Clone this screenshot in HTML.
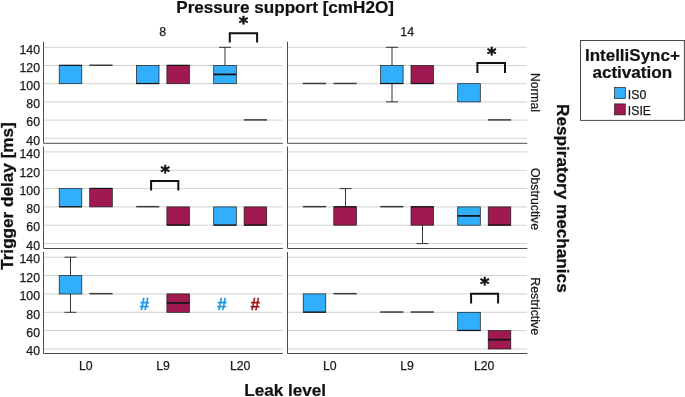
<!DOCTYPE html>
<html lang="en"><head><meta charset="utf-8"><title>Trigger delay box plot</title>
<style>
html,body{margin:0;padding:0;background:#fff;}
svg{display:block;font-family:"Liberation Sans", Arial, sans-serif;}
</style></head><body>
<svg width="685" height="397" viewBox="0 0 685 397">
<rect width="685" height="397" fill="#fff"/>
<g opacity="0.999">
<line x1="44.0" y1="138.3" x2="282.4" y2="138.3" stroke="#d2d2d2" stroke-width="1"/>
<line x1="44.0" y1="120.1" x2="282.4" y2="120.1" stroke="#d2d2d2" stroke-width="1"/>
<line x1="44.0" y1="101.9" x2="282.4" y2="101.9" stroke="#d2d2d2" stroke-width="1"/>
<line x1="44.0" y1="83.7" x2="282.4" y2="83.7" stroke="#d2d2d2" stroke-width="1"/>
<line x1="44.0" y1="65.5" x2="282.4" y2="65.5" stroke="#d2d2d2" stroke-width="1"/>
<line x1="44.0" y1="47.3" x2="282.4" y2="47.3" stroke="#d2d2d2" stroke-width="1"/>
<path d="M43.5 41.7 V143.3 H282.8" fill="none" stroke="#4c4c4c" stroke-width="1"/>
<line x1="288.0" y1="138.3" x2="527.0" y2="138.3" stroke="#d2d2d2" stroke-width="1"/>
<line x1="288.0" y1="120.1" x2="527.0" y2="120.1" stroke="#d2d2d2" stroke-width="1"/>
<line x1="288.0" y1="101.9" x2="527.0" y2="101.9" stroke="#d2d2d2" stroke-width="1"/>
<line x1="288.0" y1="83.7" x2="527.0" y2="83.7" stroke="#d2d2d2" stroke-width="1"/>
<line x1="288.0" y1="65.5" x2="527.0" y2="65.5" stroke="#d2d2d2" stroke-width="1"/>
<line x1="288.0" y1="47.3" x2="527.0" y2="47.3" stroke="#d2d2d2" stroke-width="1"/>
<path d="M287.5 41.7 V143.3 H527.3" fill="none" stroke="#4c4c4c" stroke-width="1"/>
<line x1="44.0" y1="243.6" x2="282.4" y2="243.6" stroke="#d2d2d2" stroke-width="1"/>
<line x1="44.0" y1="225.2" x2="282.4" y2="225.2" stroke="#d2d2d2" stroke-width="1"/>
<line x1="44.0" y1="206.9" x2="282.4" y2="206.9" stroke="#d2d2d2" stroke-width="1"/>
<line x1="44.0" y1="188.6" x2="282.4" y2="188.6" stroke="#d2d2d2" stroke-width="1"/>
<line x1="44.0" y1="170.3" x2="282.4" y2="170.3" stroke="#d2d2d2" stroke-width="1"/>
<line x1="44.0" y1="151.9" x2="282.4" y2="151.9" stroke="#d2d2d2" stroke-width="1"/>
<path d="M43.5 146.5 V248.5 H282.8" fill="none" stroke="#4c4c4c" stroke-width="1"/>
<line x1="288.0" y1="243.6" x2="527.0" y2="243.6" stroke="#d2d2d2" stroke-width="1"/>
<line x1="288.0" y1="225.2" x2="527.0" y2="225.2" stroke="#d2d2d2" stroke-width="1"/>
<line x1="288.0" y1="206.9" x2="527.0" y2="206.9" stroke="#d2d2d2" stroke-width="1"/>
<line x1="288.0" y1="188.6" x2="527.0" y2="188.6" stroke="#d2d2d2" stroke-width="1"/>
<line x1="288.0" y1="170.3" x2="527.0" y2="170.3" stroke="#d2d2d2" stroke-width="1"/>
<line x1="288.0" y1="151.9" x2="527.0" y2="151.9" stroke="#d2d2d2" stroke-width="1"/>
<path d="M287.5 146.5 V248.5 H527.3" fill="none" stroke="#4c4c4c" stroke-width="1"/>
<line x1="44.0" y1="349.0" x2="282.4" y2="349.0" stroke="#d2d2d2" stroke-width="1"/>
<line x1="44.0" y1="330.6" x2="282.4" y2="330.6" stroke="#d2d2d2" stroke-width="1"/>
<line x1="44.0" y1="312.3" x2="282.4" y2="312.3" stroke="#d2d2d2" stroke-width="1"/>
<line x1="44.0" y1="293.9" x2="282.4" y2="293.9" stroke="#d2d2d2" stroke-width="1"/>
<line x1="44.0" y1="275.6" x2="282.4" y2="275.6" stroke="#d2d2d2" stroke-width="1"/>
<line x1="44.0" y1="257.2" x2="282.4" y2="257.2" stroke="#d2d2d2" stroke-width="1"/>
<path d="M43.5 252.0 V353.5 H282.8" fill="none" stroke="#4c4c4c" stroke-width="1"/>
<line x1="288.0" y1="349.0" x2="527.0" y2="349.0" stroke="#d2d2d2" stroke-width="1"/>
<line x1="288.0" y1="330.6" x2="527.0" y2="330.6" stroke="#d2d2d2" stroke-width="1"/>
<line x1="288.0" y1="312.3" x2="527.0" y2="312.3" stroke="#d2d2d2" stroke-width="1"/>
<line x1="288.0" y1="293.9" x2="527.0" y2="293.9" stroke="#d2d2d2" stroke-width="1"/>
<line x1="288.0" y1="275.6" x2="527.0" y2="275.6" stroke="#d2d2d2" stroke-width="1"/>
<line x1="288.0" y1="257.2" x2="527.0" y2="257.2" stroke="#d2d2d2" stroke-width="1"/>
<path d="M287.5 252.0 V353.5 H527.3" fill="none" stroke="#4c4c4c" stroke-width="1"/>
<text x="40" y="144.5" text-anchor="end" font-size="12.3" fill="#1a1a1a" stroke="#1a1a1a" stroke-width="0.25">40</text>
<text x="40" y="126.3" text-anchor="end" font-size="12.3" fill="#1a1a1a" stroke="#1a1a1a" stroke-width="0.25">60</text>
<text x="40" y="108.1" text-anchor="end" font-size="12.3" fill="#1a1a1a" stroke="#1a1a1a" stroke-width="0.25">80</text>
<text x="40" y="89.9" text-anchor="end" font-size="12.3" fill="#1a1a1a" stroke="#1a1a1a" stroke-width="0.25">100</text>
<text x="40" y="71.7" text-anchor="end" font-size="12.3" fill="#1a1a1a" stroke="#1a1a1a" stroke-width="0.25">120</text>
<text x="40" y="53.5" text-anchor="end" font-size="12.3" fill="#1a1a1a" stroke="#1a1a1a" stroke-width="0.25">140</text>
<text x="40" y="249.8" text-anchor="end" font-size="12.3" fill="#1a1a1a" stroke="#1a1a1a" stroke-width="0.25">40</text>
<text x="40" y="231.4" text-anchor="end" font-size="12.3" fill="#1a1a1a" stroke="#1a1a1a" stroke-width="0.25">60</text>
<text x="40" y="213.1" text-anchor="end" font-size="12.3" fill="#1a1a1a" stroke="#1a1a1a" stroke-width="0.25">80</text>
<text x="40" y="194.8" text-anchor="end" font-size="12.3" fill="#1a1a1a" stroke="#1a1a1a" stroke-width="0.25">100</text>
<text x="40" y="176.5" text-anchor="end" font-size="12.3" fill="#1a1a1a" stroke="#1a1a1a" stroke-width="0.25">120</text>
<text x="40" y="158.1" text-anchor="end" font-size="12.3" fill="#1a1a1a" stroke="#1a1a1a" stroke-width="0.25">140</text>
<text x="40" y="355.2" text-anchor="end" font-size="12.3" fill="#1a1a1a" stroke="#1a1a1a" stroke-width="0.25">40</text>
<text x="40" y="336.8" text-anchor="end" font-size="12.3" fill="#1a1a1a" stroke="#1a1a1a" stroke-width="0.25">60</text>
<text x="40" y="318.5" text-anchor="end" font-size="12.3" fill="#1a1a1a" stroke="#1a1a1a" stroke-width="0.25">80</text>
<text x="40" y="300.1" text-anchor="end" font-size="12.3" fill="#1a1a1a" stroke="#1a1a1a" stroke-width="0.25">100</text>
<text x="40" y="281.8" text-anchor="end" font-size="12.3" fill="#1a1a1a" stroke="#1a1a1a" stroke-width="0.25">120</text>
<text x="40" y="263.4" text-anchor="end" font-size="12.3" fill="#1a1a1a" stroke="#1a1a1a" stroke-width="0.25">140</text>
<rect x="59.2" y="65.5" width="22.6" height="18.2" fill="#31aefc" stroke="#1a1a1a" stroke-width="0.7"/>
<line x1="59.2" y1="65.31" x2="81.8" y2="65.31" stroke="#151515" stroke-width="1.2"/>
<line x1="89.4" y1="65.26" x2="112.6" y2="65.26" stroke="#3a3a3a" stroke-width="1.5"/>
<rect x="136.4" y="65.5" width="22.6" height="18.2" fill="#31aefc" stroke="#1a1a1a" stroke-width="0.7"/>
<line x1="136.4" y1="83.52" x2="159.1" y2="83.52" stroke="#151515" stroke-width="1.2"/>
<rect x="166.9" y="65.5" width="22.6" height="18.2" fill="#a01951" stroke="#1a1a1a" stroke-width="0.7"/>
<line x1="166.9" y1="65.31" x2="189.5" y2="65.31" stroke="#151515" stroke-width="1.2"/>
<path d="M225.0 65.5 V47.3 M219.0 47.3 H231.0" stroke="#333" stroke-width="1" fill="none"/>
<rect x="213.7" y="65.5" width="22.6" height="18.2" fill="#31aefc" stroke="#1a1a1a" stroke-width="0.7"/>
<line x1="213.7" y1="74.41" x2="236.3" y2="74.41" stroke="#151515" stroke-width="1.8"/>
<line x1="243.8" y1="119.89" x2="267.0" y2="119.89" stroke="#3a3a3a" stroke-width="1.5"/>
<line x1="302.9" y1="83.47" x2="326.1" y2="83.47" stroke="#3a3a3a" stroke-width="1.5"/>
<line x1="333.5" y1="83.47" x2="356.7" y2="83.47" stroke="#3a3a3a" stroke-width="1.5"/>
<path d="M392.0 65.5 V47.3 M386.0 47.3 H398.0" stroke="#333" stroke-width="1" fill="none"/>
<path d="M392.0 83.7 V101.9 M386.0 101.9 H398.0" stroke="#333" stroke-width="1" fill="none"/>
<rect x="380.5" y="65.5" width="22.6" height="18.2" fill="#31aefc" stroke="#1a1a1a" stroke-width="0.7"/>
<line x1="380.5" y1="83.52" x2="403.1" y2="83.52" stroke="#151515" stroke-width="1.2"/>
<rect x="411.0" y="65.5" width="22.6" height="18.2" fill="#a01951" stroke="#1a1a1a" stroke-width="0.7"/>
<line x1="411.0" y1="83.52" x2="433.6" y2="83.52" stroke="#151515" stroke-width="1.2"/>
<rect x="457.7" y="83.7" width="22.6" height="18.2" fill="#31aefc" stroke="#1a1a1a" stroke-width="0.7"/>
<line x1="487.9" y1="119.89" x2="511.1" y2="119.89" stroke="#3a3a3a" stroke-width="1.5"/>
<rect x="59.2" y="188.6" width="22.6" height="18.3" fill="#31aefc" stroke="#1a1a1a" stroke-width="0.7"/>
<line x1="59.2" y1="206.71" x2="81.8" y2="206.71" stroke="#151515" stroke-width="1.2"/>
<rect x="89.7" y="188.6" width="22.6" height="18.3" fill="#a01951" stroke="#1a1a1a" stroke-width="0.7"/>
<line x1="89.7" y1="188.39" x2="112.3" y2="188.39" stroke="#151515" stroke-width="1.2"/>
<line x1="136.2" y1="206.66" x2="159.3" y2="206.66" stroke="#3a3a3a" stroke-width="1.5"/>
<rect x="166.9" y="206.9" width="22.6" height="18.3" fill="#a01951" stroke="#1a1a1a" stroke-width="0.7"/>
<line x1="166.9" y1="225.03" x2="189.5" y2="225.03" stroke="#151515" stroke-width="1.2"/>
<rect x="213.7" y="206.9" width="22.6" height="18.3" fill="#31aefc" stroke="#1a1a1a" stroke-width="0.7"/>
<line x1="213.7" y1="225.03" x2="236.3" y2="225.03" stroke="#151515" stroke-width="1.2"/>
<rect x="244.1" y="206.9" width="22.6" height="18.3" fill="#a01951" stroke="#1a1a1a" stroke-width="0.7"/>
<line x1="244.1" y1="225.03" x2="266.7" y2="225.03" stroke="#151515" stroke-width="1.2"/>
<line x1="302.9" y1="206.66" x2="326.1" y2="206.66" stroke="#3a3a3a" stroke-width="1.5"/>
<path d="M345.5 206.9 V188.6 M339.5 188.6 H351.5" stroke="#333" stroke-width="1" fill="none"/>
<rect x="333.8" y="206.9" width="22.6" height="18.3" fill="#a01951" stroke="#1a1a1a" stroke-width="0.7"/>
<line x1="333.8" y1="206.71" x2="356.4" y2="206.71" stroke="#151515" stroke-width="1.2"/>
<line x1="380.2" y1="206.66" x2="403.4" y2="206.66" stroke="#3a3a3a" stroke-width="1.5"/>
<path d="M422.5 225.2 V243.6 M416.5 243.6 H428.5" stroke="#333" stroke-width="1" fill="none"/>
<rect x="411.0" y="206.9" width="22.6" height="18.3" fill="#a01951" stroke="#1a1a1a" stroke-width="0.7"/>
<line x1="411.0" y1="206.71" x2="433.6" y2="206.71" stroke="#151515" stroke-width="1.2"/>
<rect x="457.7" y="206.9" width="22.6" height="18.3" fill="#31aefc" stroke="#1a1a1a" stroke-width="0.7"/>
<line x1="457.7" y1="215.87" x2="480.3" y2="215.87" stroke="#151515" stroke-width="1.8"/>
<rect x="488.2" y="206.9" width="22.6" height="18.3" fill="#a01951" stroke="#1a1a1a" stroke-width="0.7"/>
<line x1="488.2" y1="225.03" x2="510.8" y2="225.03" stroke="#151515" stroke-width="1.2"/>
<path d="M70.5 275.6 V257.2 M64.5 257.2 H76.5" stroke="#333" stroke-width="1" fill="none"/>
<path d="M70.5 293.9 V312.3 M64.5 312.3 H76.5" stroke="#333" stroke-width="1" fill="none"/>
<rect x="59.2" y="275.6" width="22.6" height="18.4" fill="#31aefc" stroke="#1a1a1a" stroke-width="0.7"/>
<line x1="89.4" y1="293.67" x2="112.6" y2="293.67" stroke="#3a3a3a" stroke-width="1.5"/>
<text x="144.6" y="310" text-anchor="middle" font-size="17" font-weight="bold" fill="#1e96e6" stroke="#1e96e6" stroke-width="0.3">#</text>
<rect x="166.9" y="293.9" width="22.6" height="18.4" fill="#a01951" stroke="#1a1a1a" stroke-width="0.7"/>
<line x1="166.9" y1="302.90" x2="189.5" y2="302.90" stroke="#151515" stroke-width="1.8"/>
<text x="222.1" y="310" text-anchor="middle" font-size="17" font-weight="bold" fill="#1e96e6" stroke="#1e96e6" stroke-width="0.3">#</text>
<text x="255.3" y="310" text-anchor="middle" font-size="17" font-weight="bold" fill="#a01212" stroke="#a01212" stroke-width="0.3">#</text>
<rect x="303.2" y="293.9" width="22.6" height="18.4" fill="#31aefc" stroke="#1a1a1a" stroke-width="0.7"/>
<line x1="303.2" y1="312.08" x2="325.8" y2="312.08" stroke="#151515" stroke-width="1.2"/>
<line x1="333.5" y1="293.67" x2="356.7" y2="293.67" stroke="#3a3a3a" stroke-width="1.5"/>
<line x1="380.2" y1="312.03" x2="403.4" y2="312.03" stroke="#3a3a3a" stroke-width="1.5"/>
<line x1="410.7" y1="312.03" x2="433.9" y2="312.03" stroke="#3a3a3a" stroke-width="1.5"/>
<rect x="457.7" y="312.3" width="22.6" height="18.4" fill="#31aefc" stroke="#1a1a1a" stroke-width="0.7"/>
<line x1="457.7" y1="330.44" x2="480.3" y2="330.44" stroke="#151515" stroke-width="1.2"/>
<rect x="488.2" y="330.6" width="22.6" height="18.4" fill="#a01951" stroke="#1a1a1a" stroke-width="0.7"/>
<line x1="488.2" y1="339.62" x2="510.8" y2="339.62" stroke="#151515" stroke-width="1.8"/>
<path d="M229.8 42.6 V33.2 H257.1 V42.6" fill="none" stroke="#111" stroke-width="2"/>
<text x="243.4" y="29.2" text-anchor="middle" font-family="DejaVu Sans, Liberation Sans, sans-serif" font-size="18" font-weight="bold" fill="#111" stroke="#111" stroke-width="0.55">*</text>
<path d="M477.4 72.9 V63.0 H505.0 V72.9" fill="none" stroke="#111" stroke-width="2"/>
<text x="491.8" y="60.0" text-anchor="middle" font-family="DejaVu Sans, Liberation Sans, sans-serif" font-size="18" font-weight="bold" fill="#111" stroke="#111" stroke-width="0.55">*</text>
<path d="M151.1 190.6 V181.0 H178.3 V190.6" fill="none" stroke="#111" stroke-width="2"/>
<text x="165.1" y="177.8" text-anchor="middle" font-family="DejaVu Sans, Liberation Sans, sans-serif" font-size="18" font-weight="bold" fill="#111" stroke="#111" stroke-width="0.55">*</text>
<path d="M471.1 303.4 V293.7 H498.1 V303.4" fill="none" stroke="#111" stroke-width="2"/>
<text x="484.8" y="290.4" text-anchor="middle" font-family="DejaVu Sans, Liberation Sans, sans-serif" font-size="18" font-weight="bold" fill="#111" stroke="#111" stroke-width="0.55">*</text>
<text x="85.8" y="369.8" text-anchor="middle" font-size="12.3" fill="#1a1a1a" stroke="#1a1a1a" stroke-width="0.25">L0</text>
<text x="163.0" y="369.8" text-anchor="middle" font-size="12.3" fill="#1a1a1a" stroke="#1a1a1a" stroke-width="0.25">L9</text>
<text x="240.2" y="369.8" text-anchor="middle" font-size="12.3" fill="#1a1a1a" stroke="#1a1a1a" stroke-width="0.25">L20</text>
<text x="329.8" y="369.8" text-anchor="middle" font-size="12.3" fill="#1a1a1a" stroke="#1a1a1a" stroke-width="0.25">L0</text>
<text x="407.1" y="369.8" text-anchor="middle" font-size="12.3" fill="#1a1a1a" stroke="#1a1a1a" stroke-width="0.25">L9</text>
<text x="484.2" y="369.8" text-anchor="middle" font-size="12.3" fill="#1a1a1a" stroke="#1a1a1a" stroke-width="0.25">L20</text>
<text x="162.7" y="36.2" text-anchor="middle" font-size="12.3" fill="#1a1a1a" stroke="#1a1a1a" stroke-width="0.25">8</text>
<text x="407.2" y="36.2" text-anchor="middle" font-size="12.3" fill="#1a1a1a" stroke="#1a1a1a" stroke-width="0.25">14</text>
<text transform="translate(530.5 92.5) rotate(90)" text-anchor="middle" font-size="12.1" fill="#1a1a1a" stroke="#1a1a1a" stroke-width="0.25">Normal</text>
<text transform="translate(531.1 199.0) rotate(90)" text-anchor="middle" font-size="12.3" fill="#1a1a1a" stroke="#1a1a1a" stroke-width="0.25">Obstructive</text>
<text transform="translate(530.7 306.2) rotate(90)" text-anchor="middle" font-size="12.4" fill="#1a1a1a" stroke="#1a1a1a" stroke-width="0.25">Restrictive</text>
<text x="285.1" y="12.6" text-anchor="middle" font-size="17.13" font-weight="bold" fill="#111" stroke="#111" stroke-width="0.2">Pressure support [cmH2O]</text>
<text x="285.2" y="396.1" text-anchor="middle" font-size="17.1" font-weight="bold" fill="#111" stroke="#111" stroke-width="0.2">Leak level</text>
<text transform="translate(13.1 196.0) rotate(-90)" text-anchor="middle" font-size="17.15" font-weight="bold" fill="#111" stroke="#111" stroke-width="0.3">Trigger delay [ms]</text>
<text transform="translate(556.6 198.35) rotate(90)" text-anchor="middle" font-size="17.15" font-weight="bold" fill="#111" stroke="#111" stroke-width="0.3">Respiratory mechanics</text>
<rect x="580.5" y="40.5" width="103.9" height="79.9" fill="none" stroke="#4a4a4a" stroke-width="1"/>
<text x="632.4" y="60.9" text-anchor="middle" font-size="17" font-weight="bold" fill="#111" stroke="#111" stroke-width="0.2">IntelliSync+</text>
<text x="632.3" y="78.0" text-anchor="middle" font-size="17.1" font-weight="bold" fill="#111" stroke="#111" stroke-width="0.2">activation</text>
<rect x="614.5" y="87.5" width="10.8" height="11" fill="#31aefc" stroke="#222" stroke-width="0.7"/>
<rect x="614.5" y="103.9" width="10.8" height="11" fill="#a01951" stroke="#222" stroke-width="0.7"/>
<text x="627.8" y="99.0" font-size="12.3" fill="#1a1a1a" stroke="#1a1a1a" stroke-width="0.25">IS0</text>
<text x="627.8" y="115.4" font-size="12.3" fill="#1a1a1a" stroke="#1a1a1a" stroke-width="0.25">ISIE</text>
</g>
</svg>
</body></html>
